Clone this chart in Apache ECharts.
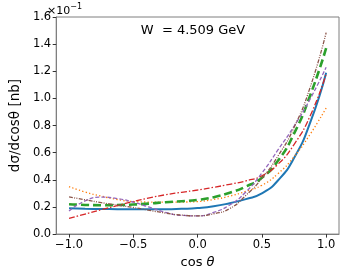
<!DOCTYPE html>
<html>
<head>
<meta charset="utf-8">
<script src="https://cdn.jsdelivr.net/npm/echarts@6/dist/echarts.min.js"></script>
<style>html,body{margin:0;padding:0;background:#fff}#c{width:346px;height:274px}</style>
</head>
<body>
<div id="c"></div>
<script>
var cosTheta = [-1.0, -0.875, -0.75, -0.625, -0.5, -0.375, -0.25, -0.125, 0.0, 0.125, 0.25, 0.375, 0.5, 0.625, 0.75, 0.875, 1.0];
var blue   = [0.19, 0.187, 0.185, 0.184, 0.183, 0.183, 0.183, 0.186, 0.192, 0.205, 0.228, 0.258, 0.3, 0.395, 0.56, 0.82, 1.19];
var orange = [0.35, 0.31, 0.28, 0.255, 0.24, 0.236, 0.235, 0.236, 0.24, 0.255, 0.28, 0.315, 0.36, 0.445, 0.57, 0.735, 0.93];
var green  = [0.22, 0.215, 0.213, 0.214, 0.218, 0.225, 0.235, 0.242, 0.252, 0.272, 0.305, 0.35, 0.415, 0.54, 0.74, 1.02, 1.37];
var red    = [0.115, 0.148, 0.18, 0.21, 0.24, 0.267, 0.29, 0.308, 0.325, 0.345, 0.367, 0.392, 0.43, 0.515, 0.66, 0.87, 1.18];
var purple = [0.17, 0.245, 0.272, 0.262, 0.235, 0.198, 0.16, 0.138, 0.134, 0.16, 0.215, 0.31, 0.45, 0.62, 0.795, 0.995, 1.23];
var brown  = [0.274, 0.253, 0.232, 0.214, 0.196, 0.175, 0.155, 0.14, 0.135, 0.15, 0.188, 0.285, 0.41, 0.575, 0.785, 1.08, 1.485];
var xTicks = [-1.0, -0.5, 0.0, 0.5, 1.0];
var titleText = 'W  = 4.509 GeV';

function pairs(ys){ return cosTheta.map(function(x,i){ return [x, ys[i]]; }); }
function fmt(v){ return (v < 0 ? '\u2212' : '') + Math.abs(v).toFixed(1); }

var FONT = 'DejaVu Sans';
var chart = echarts.init(document.getElementById('c'), null, {renderer:'canvas'});
function mk(name, data, color, width, dash){
  return {name:name, type:'line', data:pairs(data), smooth:0.55, showSymbol:false, symbol:'none',
    lineStyle:{color:color, width:width, type:dash}, z:2};
}
chart.setOption({
  animation:false,
  grid:{left:47, right:7, top:17, bottom:39, show:true, borderColor:'#7f7f7f', borderWidth:1},
  xAxis:{type:'value', min:-1.1, max:1.1,
    name:'{n|cos }{t|\u03b8}', nameLocation:'middle', nameGap:21,
    nameTextStyle:{fontFamily:FONT, fontSize:13, color:'#000', rich:{
      n:{fontFamily:FONT, fontSize:13, color:'#000'},
      t:{fontFamily:FONT, fontSize:13, color:'#000', fontStyle:'italic'}}},
    axisLine:{show:true, onZero:false, lineStyle:{color:'#7f7f7f'}},
    axisTick:{show:true, length:3.5, lineStyle:{color:'#333'}, customValues:xTicks},
    axisLabel:{fontFamily:FONT, fontSize:11.5, color:'#000', margin:5, customValues:xTicks, formatter:fmt},
    splitLine:{show:false}},
  yAxis:{type:'value', min:0, max:1.6, interval:0.2,
    name:'d\u03c3/dcos\u03b8 [nb]', nameLocation:'middle', nameGap:30, nameRotate:90,
    nameTextStyle:{fontFamily:FONT, fontSize:13.5, color:'#000'},
    axisLine:{show:true, onZero:false, lineStyle:{color:'#7f7f7f'}},
    axisTick:{show:true, length:3.5, lineStyle:{color:'#333'}},
    axisLabel:{fontFamily:FONT, fontSize:11.5, color:'#000', margin:5, formatter:function(v){return v.toFixed(1);}},
    splitLine:{show:false}},
  graphic:[
    {type:'text', left:47, top:3, style:{text:'{a|\u00d710}{b|\u22121}', rich:{
      a:{fontFamily:FONT, fontSize:11, fill:'#000', verticalAlign:'bottom'},
      b:{fontFamily:FONT, fontSize:8, fill:'#000', verticalAlign:'top', padding:[0,0,6,0]}}}},
    {type:'text', x:193, y:24, style:{text:titleText, fontFamily:FONT, fontSize:13, fill:'#000', align:'center', verticalAlign:'top'}}
  ],
  series:[
    mk('blue', blue, '#1f77b4', 2, 'solid'),
    mk('orange', orange, '#ff7f0e', 1.3, [1.3,2.2]),
    mk('green', green, '#2ca02c', 2.6, [8,4]),
    mk('red', red, '#d62728', 1.3, [6,2,1.5,2]),
    mk('purple', purple, '#9467bd', 1.3, [4,2]),
    mk('brown', brown, '#8c564b', 1.3, [4,1.3,1,1.3,1,1.3])
  ]
});
</script>
</body>
</html>
